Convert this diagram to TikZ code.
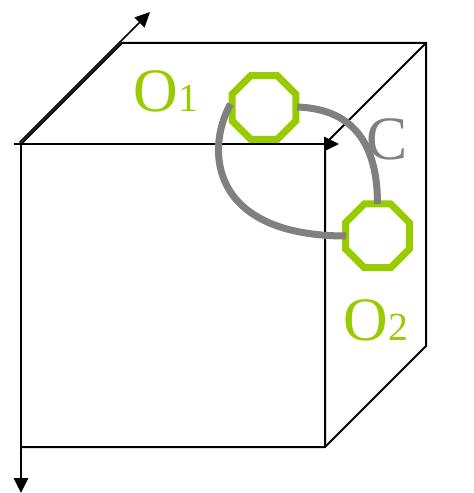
\documentclass[tikz,border=0pt]{standalone}
\usepackage{fontspec}
\setmainfont{Liberation Serif}
\usetikzlibrary{arrows.meta,shapes.geometric}
\definecolor{ogreen}{HTML}{99CC00}
\definecolor{cgray}{HTML}{808080}
\begin{document}
\begin{tikzpicture}[x=1bp,y=-1bp,
  edge/.style={line width=2bp,black},
  axis/.style={line width=2.6bp,black,-{Triangle[length=15bp,width=14bp]}},
  octa/.style={draw=ogreen,line width=7bp,regular polygon,regular polygon sides=8,minimum size=69bp,inner sep=0pt},
  link/.style={draw=cgray,line width=7bp},
  biglab/.style={font=\fontsize{62}{62}\selectfont,inner sep=0pt,anchor=base west},
  smalllab/.style={font=\fontsize{40}{40}\selectfont,inner sep=0pt,anchor=base west}]
\useasboundingbox (0,0) rectangle (474,493);
% corners
\coordinate (ftl) at (21,144);
\coordinate (ftr) at (325,144);
\coordinate (fbl) at (21,447);
\coordinate (fbr) at (325,447);
\coordinate (btl) at (122,43);
\coordinate (btr) at (426,43);
\coordinate (bbr) at (426,346);
\coordinate (xs) at (14,144);
\coordinate (xe) at (339,144);
\coordinate (ye) at (21,493);
\coordinate (zs) at (19.5,142.5);
\coordinate (ze) at (150,12);
% edges
\draw[edge,line cap=rect] (ftl) -- (btl) -- (btr) -- (bbr) -- (fbr) -- (fbl);
\draw[edge] (btr) -- (ftr) -- (fbr);
\draw[axis] (xs) -- (xe);
\draw[axis] (ftl) -- (ye);
\draw[line width=1.6bp,-{Triangle[length=15bp,width=14bp]}] (zs) -- (ze);
% octagons
\node[octa] (o1) at (264,107.5) {};
\node[octa] (o2) at (377.5,235.8) {};
% links
\coordinate (a1) at (297,107);
\coordinate (a2) at (377.5,204);
\coordinate (b1) at (230.5,104);
\coordinate (b2) at (346,236);
\draw[link] (a1) .. controls (358,109) and (377.5,150) .. (a2);
\draw[link] (b1) .. controls (205,150) and (210,236) .. (b2);
% labels
\node[biglab,text=ogreen] (lo1) at (133,112) {O};
\node[smalllab,text=ogreen] (ln1) at (lo1.base east) {1};
\node[biglab,text=ogreen] (lo2) at (343,340) {O};
\node[smalllab,text=ogreen] (ln2) at (lo2.base east) {2};
\node[biglab,text=cgray] (lc) at (366,160) {C};
\end{tikzpicture}
\end{document}
